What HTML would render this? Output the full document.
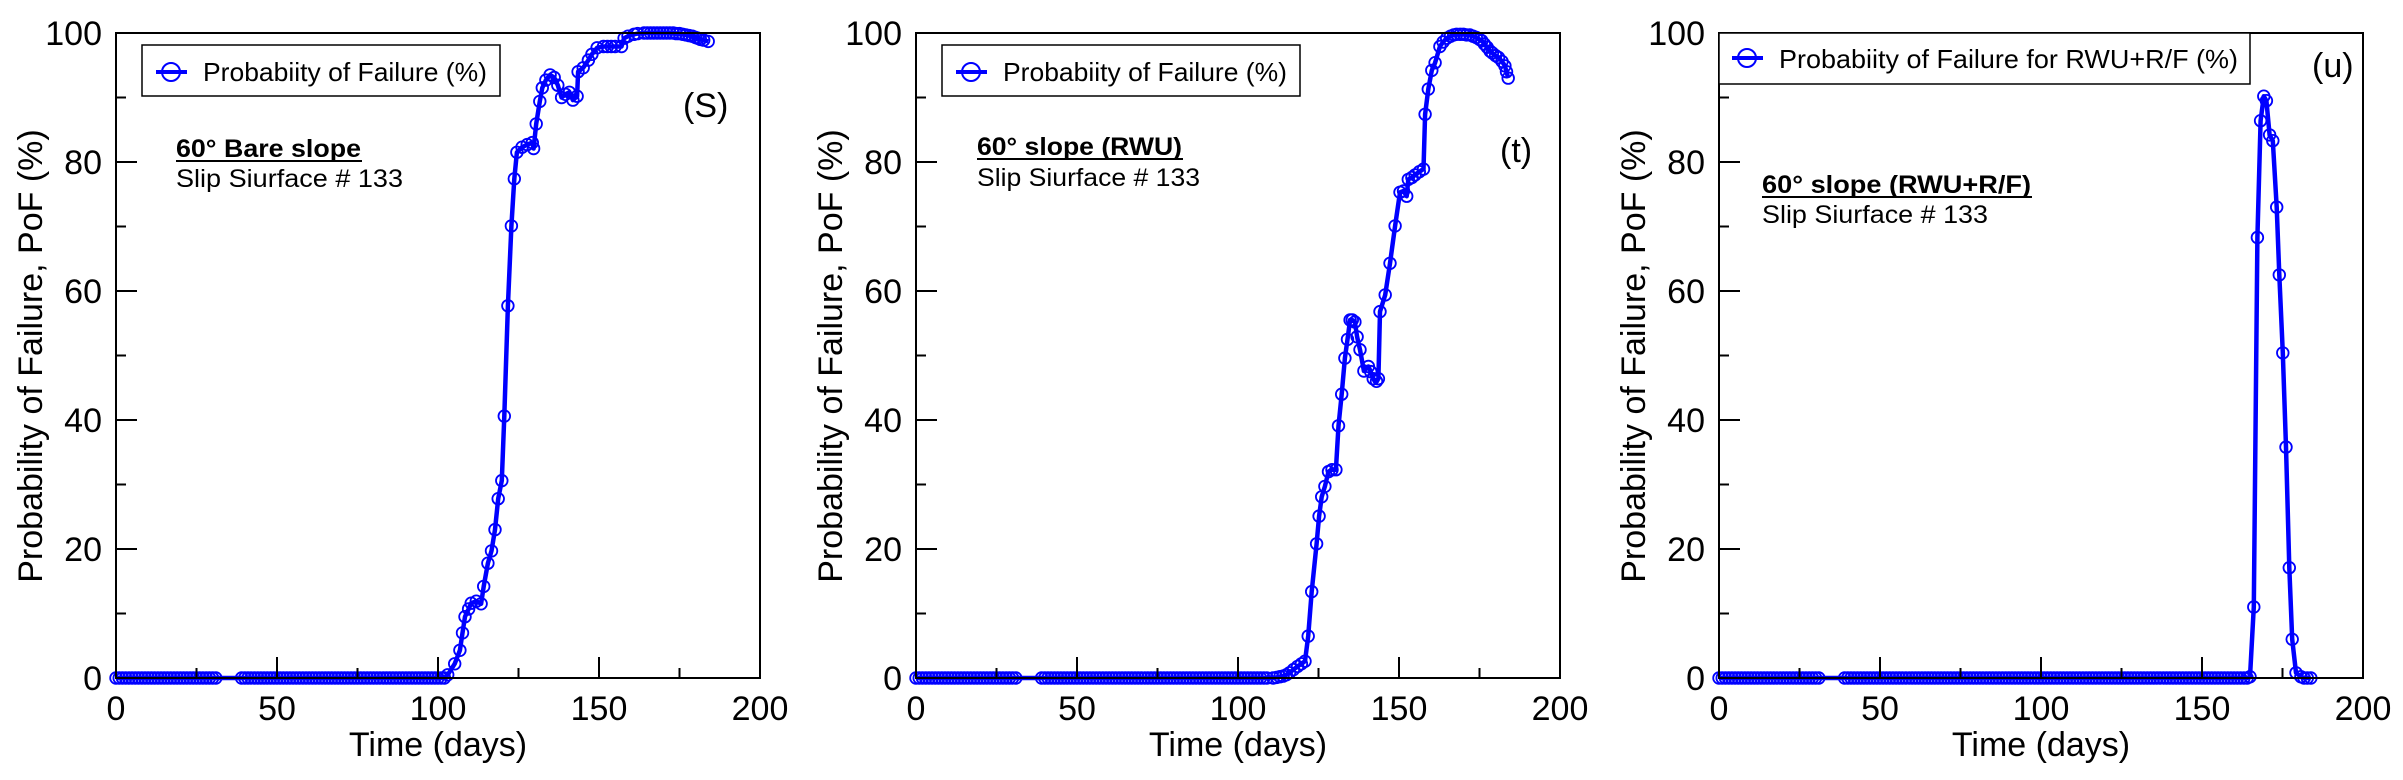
<!DOCTYPE html>
<html><head><meta charset="utf-8"><style>
html,body{margin:0;padding:0;background:#fff;}
svg{display:block;font-family:"Liberation Sans",Arial,sans-serif;}
</style></head><body>
<svg id="s" width="2403" height="780" viewBox="0 0 2403 780" xmlns="http://www.w3.org/2000/svg">
<rect width="2403" height="780" fill="#fff"/>
<g font-size="34" fill="#000">
<text x="102" y="690" text-anchor="end">0</text><text x="102" y="561" text-anchor="end">20</text><text x="102" y="432" text-anchor="end">40</text><text x="102" y="303" text-anchor="end">60</text><text x="102" y="174" text-anchor="end">80</text><text x="102" y="45" text-anchor="end">100</text>
<text x="116" y="720" text-anchor="middle">0</text><text x="277" y="720" text-anchor="middle">50</text><text x="438" y="720" text-anchor="middle">100</text><text x="599" y="720" text-anchor="middle">150</text><text x="760" y="720" text-anchor="middle">200</text>
<text x="438" y="756" text-anchor="middle">Time (days)</text>
<text transform="translate(42,356) rotate(-90)" text-anchor="middle">Probability of Failure, PoF (%)</text>
<text x="683" y="117">(S)</text>
<text x="902" y="690" text-anchor="end">0</text><text x="902" y="561" text-anchor="end">20</text><text x="902" y="432" text-anchor="end">40</text><text x="902" y="303" text-anchor="end">60</text><text x="902" y="174" text-anchor="end">80</text><text x="902" y="45" text-anchor="end">100</text>
<text x="916" y="720" text-anchor="middle">0</text><text x="1077" y="720" text-anchor="middle">50</text><text x="1238" y="720" text-anchor="middle">100</text><text x="1399" y="720" text-anchor="middle">150</text><text x="1560" y="720" text-anchor="middle">200</text>
<text x="1238" y="756" text-anchor="middle">Time (days)</text>
<text transform="translate(842,356) rotate(-90)" text-anchor="middle">Probability of Failure, PoF (%)</text>
<text x="1500" y="162">(t)</text>
<text x="1705" y="690" text-anchor="end">0</text><text x="1705" y="561" text-anchor="end">20</text><text x="1705" y="432" text-anchor="end">40</text><text x="1705" y="303" text-anchor="end">60</text><text x="1705" y="174" text-anchor="end">80</text><text x="1705" y="45" text-anchor="end">100</text>
<text x="1719" y="720" text-anchor="middle">0</text><text x="1880" y="720" text-anchor="middle">50</text><text x="2041" y="720" text-anchor="middle">100</text><text x="2202" y="720" text-anchor="middle">150</text><text x="2363" y="720" text-anchor="middle">200</text>
<text x="2041" y="756" text-anchor="middle">Time (days)</text>
<text transform="translate(1645,356) rotate(-90)" text-anchor="middle">Probability of Failure, PoF (%)</text>
<text x="2312" y="77">(u)</text>
</g>
<g font-size="25" fill="#000">
<text x="176" y="157" font-weight="bold" textLength="185" lengthAdjust="spacingAndGlyphs">60° Bare slope</text>
<rect x="176" y="160" width="186" height="2"/>
<text x="176" y="187" textLength="227" lengthAdjust="spacingAndGlyphs">Slip Siurface # 133</text>
<text x="977" y="155" font-weight="bold" textLength="205" lengthAdjust="spacingAndGlyphs">60° slope (RWU)</text>
<rect x="977" y="158" width="206" height="2"/>
<text x="977" y="186" textLength="223" lengthAdjust="spacingAndGlyphs">Slip Siurface # 133</text>
<text x="1762" y="193" font-weight="bold" textLength="269" lengthAdjust="spacingAndGlyphs">60° slope (RWU+R/F)</text>
<rect x="1762" y="196" width="270" height="2"/>
<text x="1762" y="223" textLength="226" lengthAdjust="spacingAndGlyphs">Slip Siurface # 133</text>
</g>
<g id="plots"></g>
<g font-size="26" fill="#000">
<rect x="142" y="45" width="358" height="51" fill="#fff" stroke="#000" stroke-width="1.5"/>
<line x1="156" y1="72" x2="187" y2="72" stroke="#0000ff" stroke-width="4"/>
<circle cx="171" cy="72" r="9" fill="none" stroke="#0000ff" stroke-width="2"/>
<text x="203" y="81" textLength="284" lengthAdjust="spacingAndGlyphs">Probabiity of Failure (%)</text>
<rect x="942" y="45" width="358" height="51" fill="#fff" stroke="#000" stroke-width="1.5"/>
<line x1="956" y1="72" x2="987" y2="72" stroke="#0000ff" stroke-width="4"/>
<circle cx="971" cy="72" r="9" fill="none" stroke="#0000ff" stroke-width="2"/>
<text x="1003" y="81" textLength="284" lengthAdjust="spacingAndGlyphs">Probabiity of Failure (%)</text>
<rect x="1719" y="33" width="531" height="51" fill="#fff" stroke="#000" stroke-width="1.5"/>
<line x1="1732" y1="58" x2="1763" y2="58" stroke="#0000ff" stroke-width="4"/>
<circle cx="1747" cy="58" r="9" fill="none" stroke="#0000ff" stroke-width="2"/>
<text x="1779" y="68" textLength="459" lengthAdjust="spacingAndGlyphs">Probabiity of Failure for RWU+R/F (%)</text>
</g>
</svg>
<script>
(function(){
var NS="http://www.w3.org/2000/svg";
var g=document.getElementById("plots");
function el(n,a){var e=document.createElementNS(NS,n);for(var k in a)e.setAttribute(k,a[k]);g.appendChild(e);return e;}
var y0=678,sy=6.45,sx=3.22;
var P=[
 {x0:116,flat:103,k:[[103,0.5],[105.2,2.2],[106.8,4.3],[107.6,7],[108.4,9.5],[109.5,10.7],[110.3,11.6],[111.9,11.9],[113.4,11.5],[114.2,14.2],[115.5,17.8],[116.6,19.7],[117.7,23],[118.7,27.8],[119.8,30.6],[120.6,40.6],[121.7,57.7],[122.8,70.1],[123.7,77.4],[124.5,81.5],[126.1,82.3],[127.7,82.7],[129.3,83],[129.7,82.1],[130.5,85.9],[131.6,89.4],[132.4,91.5],[133.5,92.7],[134.8,93.5],[136.1,93.1],[137.2,91.9],[138.4,90],[139.6,90.5],[140.8,90.8],[141.9,89.6],[143.2,90.2],[143.5,94],[145.1,94.6],[146.7,95.8],[147.8,96.7],[149.4,97.7],[151.4,97.9],[152.6,97.9],[153.8,97.9],[155,97.9],[157,97.9],[157.8,99.2],[159,99.5],[160.9,99.8],[162,99.9],[164,100],[165,100],[166,100],[167,100],[168,100],[169,100],[170,100],[171,100],[172,100],[173,100],[174,99.9],[175,99.9],[176,99.8],[177,99.7],[178,99.6],[179,99.5],[180,99.3],[180.7,99.2],[181.5,99],[182.5,98.9],[183.9,98.7]]},
 {x0:916,flat:110,k:[[110.9,0],[112,0.1],[113,0.2],[114,0.3],[115,0.5],[116,0.8],[117.2,1.3],[118.5,1.8],[119.7,2.2],[120.8,2.6],[121.8,6.5],[122.9,13.4],[124.4,20.8],[125.2,25.1],[126,28.1],[127,29.7],[128.1,32],[129.2,32.3],[130.4,32.3],[131.2,39.1],[132.2,44],[133.2,49.6],[134,52.5],[134.8,55.5],[135.5,55.5],[136.3,55.2],[137,52.9],[137.9,50.9],[139.1,47.6],[140.5,48.3],[141.2,47.5],[142,46.4],[143,46],[143.6,46.4],[144.1,56.8],[145.7,59.4],[147.2,64.3],[148.8,70.1],[150.3,75.3],[151.4,75.5],[152.4,74.7],[152.9,77.3],[154,77.6],[155,78],[156.3,78.5],[157.6,78.9],[158.1,87.4],[159.1,91.3],[160.2,94.2],[161.2,95.4],[162.7,97.9],[163.7,98.6],[164.8,99.2],[166,99.5],[167,99.7],[167.9,99.8],[169,99.8],[170,99.8],[171,99.7],[172,99.7],[173,99.5],[174,99.3],[175,99],[175.7,98.8],[176.5,98.3],[177.4,97.8],[178.3,97.2],[179,96.9],[180,96.5],[180.9,96.2],[182,95.6],[182.9,94.9],[183.4,94],[183.9,93]]},
 {x0:1719,flat:165,k:[[164.9,0.2],[166.1,11],[167.2,68.3],[168.2,86.4],[169.2,90.2],[170,89.5],[171,84.2],[172,83.3],[173.2,73],[174,62.5],[175.1,50.4],[176.1,35.8],[177.1,17.1],[178,6],[179.2,0.8],[180.7,0.2],[181.7,0],[182.7,0],[183.8,0]]}
];
P.forEach(function(p){
 var x0=p.x0;
 var fx=function(d){return x0+d*sx;}, fy=function(v){return y0-v*sy;};
 var marks=[];
 for(var d=0;d<=31;d+=1){marks.push([d,0]);}
 for(var d=39;d<p.flat;d+=1){marks.push([d,0]);}
 marks=marks.concat(p.k);
 var s="";
 marks.forEach(function(m){s+=fx(m[0]).toFixed(1)+","+fy(m[1]).toFixed(1)+" ";});
 el("polyline",{points:s,fill:"none",stroke:"#0000ff","stroke-width":"4.5","stroke-linejoin":"round"});
 marks.forEach(function(m){el("circle",{cx:fx(m[0]).toFixed(1),cy:fy(m[1]).toFixed(1),r:"5.8",fill:"none",stroke:"#0000ff","stroke-width":"1.8"});});
 el("rect",{x:x0,y:33,width:644,height:645,fill:"none",stroke:"#000","stroke-width":"2"});
 var t="";
 for(var d=0;d<=200;d+=25){var X=fx(d);var L=(d%50==0)?21:10;t+="M"+X+" "+y0+"v-"+L;}
 for(var v=0;v<=100;v+=10){var Y=fy(v);var L=(v%20==0)?21:10;t+="M"+x0+" "+Y+"h"+L;}
 el("path",{d:t,stroke:"#000","stroke-width":"2",fill:"none"});
});
var svg=document.getElementById("s");
var gs=svg.querySelectorAll("svg > g");
svg.appendChild(gs[gs.length-1]);
})();
</script>
</body></html>
